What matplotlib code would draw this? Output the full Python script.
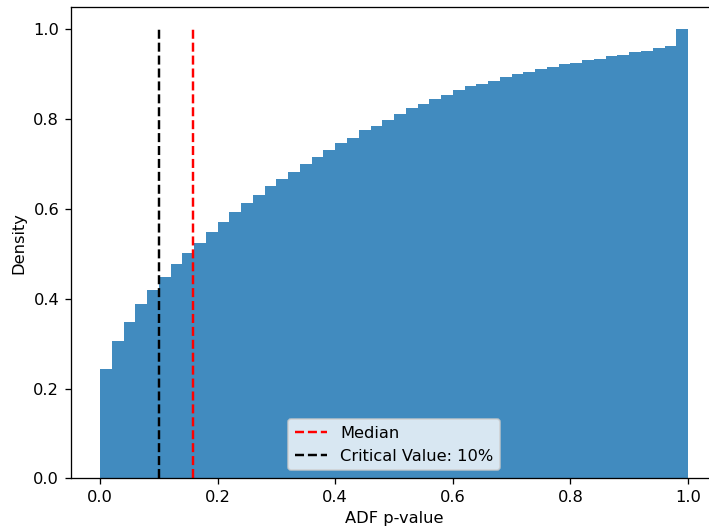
import numpy as np
import matplotlib.pyplot as plt

# cumulative density per p-value bin (50 bins of width 0.02)
bin_edges = np.linspace(0, 1, 51)
cum_density = [0.243, 0.306, 0.348, 0.388, 0.420, 0.449, 0.478, 0.502, 0.524, 0.549,
               0.571, 0.594, 0.614, 0.632, 0.652, 0.667, 0.683, 0.701, 0.716, 0.732,
               0.746, 0.759, 0.775, 0.786, 0.799, 0.812, 0.824, 0.835, 0.844, 0.855,
               0.864, 0.873, 0.879, 0.886, 0.893, 0.900, 0.906, 0.911, 0.917, 0.922,
               0.926, 0.931, 0.935, 0.940, 0.944, 0.949, 0.953, 0.958, 0.964, 1.000]
median_p = 0.158
critical_10 = 0.10

fig = plt.figure(figsize=(709 / 117, 532 / 117), dpi=117)
# axes runs slightly past the right edge (the original was cropped)
ax = fig.add_axes([0.0996, 0.1006, 0.9123, 0.8863])

ax.bar(bin_edges[:-1], cum_density, width=np.diff(bin_edges), align='edge',
       color='#1f77b4', alpha=0.85, linewidth=0)
ax.vlines(median_p, 0, 1, colors='red', linestyles='--', linewidth=1.5, label='Median')
ax.vlines(critical_10, 0, 1, colors='black', linestyles='--', linewidth=1.5,
          label='Critical Value: 10%')

ax.set_xlim(-0.05, 1.05)
ax.set_ylim(0, 1.05)
ax.set_xlabel('ADF p-value')
ax.set_ylabel('Density')
ax.legend(loc='lower center')

plt.savefig('out.png', dpi=117)
